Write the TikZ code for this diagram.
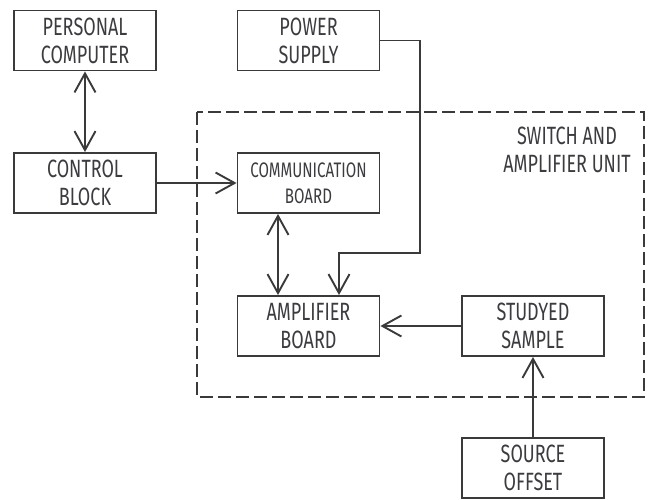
\documentclass[tikz,border=0pt]{standalone}
\usepackage{fontspec}
\setmainfont[FakeStretch=0.72]{Fira Sans}
\usetikzlibrary{arrows.meta}
\definecolor{ln}{HTML}{3A3A3A}
\definecolor{tx}{HTML}{3C3C40}
\tikzset{
  blk/.style={draw=ln, line width=1.9pt, minimum width=142pt, minimum height=60pt, inner sep=0pt,
    align=center, text=tx, font=\fontsize{25}{28}\selectfont},
  con/.style={draw=ln, line width=1.9pt},
  tip/.style={-{Straight Barb[length=19pt,width=21pt,line width=1.9pt]}},
  both/.style={{Straight Barb[length=19pt,width=21pt,line width=1.9pt]}-{Straight Barb[length=19pt,width=21pt,line width=1.9pt]}},
  unitbox/.style={draw=ln, line width=1.4pt, dash pattern=on 13pt off 5pt}
}
\begin{document}
\begin{tikzpicture}[x=1pt,y=-1pt]
\useasboundingbox (0,0) rectangle (649,499);
\draw[unitbox] (197,112) rectangle (644,397);
\node[text=tx, align=center, font=\fontsize{25}{28}\selectfont] (lbl) at (567,150) {SWITCH AND\\AMPLIFIER UNIT};
\node[blk] (pc) at (85,40.5) {PERSONAL\\COMPUTER};
\node[blk] (ps) at (308.5,40.5) {POWER\\SUPPLY};
\node[blk] (cb) at (85,183) {CONTROL\\BLOCK};
\node[blk, font=\fontsize{21}{26}\selectfont] (cm) at (308.5,183) {COMMUNICATION\\BOARD};
\node[blk] (am) at (308.5,326) {AMPLIFIER\\BOARD};
\node[blk] (ss) at (533,326) {STUDYED\\SAMPLE};
\node[blk] (so) at (533,468) {SOURCE\\OFFSET};
\coordinate (bend) at (420,253);
\draw[con, both] (pc.south) -- (cb.north);
\draw[con, tip] (cb.east) -- (cm.west);
\draw[con, both] ([xshift=-30.5pt]cm.south) -- ([xshift=-30.5pt]am.north);
\draw[con, tip] (ps.east) -| (bend) -| ([xshift=30.5pt]am.north);
\draw[con, tip] (ss.west) -- (am.east);
\draw[con, tip] (so.north) -- (ss.south);
\end{tikzpicture}
\end{document}
